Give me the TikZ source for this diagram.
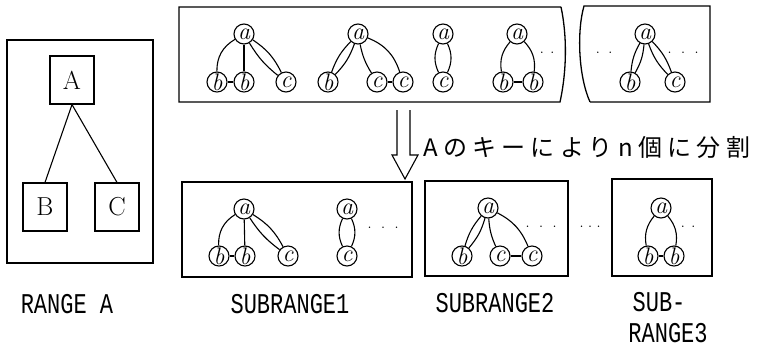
\documentclass[tikz,border=0pt]{standalone}
\usepackage{fontspec}
\newfontfamily\jpfont[LetterSpace=22]{Noto Sans CJK JP}
\newfontfamily\rangefont{Liberation Mono}
\usetikzlibrary{positioning}

\tikzstyle{rangebox} = [rectangle, draw=black, line width=1.3pt]
\tikzstyle{keybox} = [rectangle, minimum width=44pt, minimum height=48pt, draw=black, line width=1.2pt, font=\fontsize{26}{26}\selectfont]
\tikzstyle{vertex} = [circle, draw=black, minimum size=20pt, inner sep=0pt, line width=1.1pt, font=\fontsize{24}{24}\selectfont\itshape]
\tikzstyle{link} = [line width=1.1pt]
\tikzstyle{caption} = [font=\rangefont\fontsize{22}{22}\selectfont, inner sep=0pt]
\tikzstyle{more} = [font=\fontsize{18}{18}\selectfont, inner sep=0pt]

\begin{document}
\begin{tikzpicture}[x=1pt, y=1pt]
\useasboundingbox (0,0) rectangle (762,-349);

% RANGE A
\node (rangeA) [rangebox, minimum width=146pt, minimum height=223pt] at (80,-151.5) {};
\node (A) [keybox] at (72,-80) {A};
\node (B) [keybox] at (45,-207) {B};
\node (C) [keybox] at (117,-207) {C};
\draw [link] (A.south) -- (B.north);
\draw [link] (A.south) -- (C.north);
\node (rangeAcap) [caption] at (67,-304) {\scalebox{1}[1.3]{RANGE A}};

% whole range, broken on the right
\draw [rangebox] (561,-7) -- (179,-7) -- (179,-102) -- (560,-102) .. controls (567,-70) and (567,-35) .. (561,-7);
\draw [rangebox] (590,-102) -- (710,-102) -- (710,-6) -- (584,-6) .. controls (577,-30) and (578,-75) .. (590,-102);

\node (t1a) [vertex] at (244,-34) {a};
\node (t1b) [vertex] at (217,-82) {b};
\node (t1bb) [vertex] at (244,-82) {b};
\node (t1c) [vertex] at (286,-82) {c};
\draw [link] (t1a) to[bend right=30] (t1b);
\draw [link] (t1a) -- (t1bb);
\draw [link] (t1a) to[bend left=15] (t1c);
\draw [link] (t1a) to[bend right=10] (t1c);
\draw [link] (t1b) -- (t1bb);

\node (t2a) [vertex] at (358,-34) {a};
\node (t2b) [vertex] at (328,-82) {b};
\node (t2c) [vertex] at (377,-82) {c};
\draw [link] (t2a) to[bend left=12] (t2b);
\draw [link] (t2a) to[bend right=12] (t2b);
\node (t2cc) [vertex] at (403,-82) {c};
\draw [link] (t2a) to[bend right=10] (t2c);
\draw [link] (t2a) to[bend left=25] (t2cc);
\draw [link] (t2c) -- (t2cc);

\node (t3a) [vertex] at (443,-34) {a};
\node (t3c) [vertex] at (443,-82) {c};
\draw [link] (t3a) to[bend left=25] (t3c);
\draw [link] (t3a) to[bend right=25] (t3c);

\node (t4a) [vertex] at (517,-34) {a};
\node (t4b) [vertex] at (503,-82) {b};
\node (t4bb) [vertex] at (533,-82) {b};
\draw [link] (t4a) to[bend right=25] (t4b);
\draw [link] (t4a) to[bend left=25] (t4bb);
\draw [link] (t4b) -- (t4bb);
\node (t4more) [more] at (547,-53) {.\hspace{6pt}.};

\node (t5less) [more] at (604,-53) {.\hspace{8pt}.};
\node (t5a) [vertex] at (645,-34) {a};
\node (t5b) [vertex] at (630,-82) {b};
\node (t5c) [vertex] at (675,-82) {c};
\draw [link] (t5a) to[bend left=12] (t5b);
\draw [link] (t5a) to[bend right=12] (t5b);
\draw [link] (t5a) to[bend left=12] (t5c);
\draw [link] (t5a) to[bend right=12] (t5c);
\node (t5more) [more] at (683,-53) {.\hspace{9pt}.\hspace{9pt}.};

% split by key A
\coordinate (splittop) at (403.5,-110);
\draw [line width=1.1pt] (397,-110) -- (397,-155) -- (392,-155) -- (405,-179) -- (418,-155) -- (410,-155) -- (410,-110);
\node (splitnote) [anchor=west, font=\jpfont\fontsize{24}{24}\selectfont, inner sep=0pt] at (423,-147) {Aのキーによりn個に分割};

% SUBRANGE1
\node (sub1) [rangebox, minimum width=230pt, minimum height=95pt] at (297,-229.5) {};
\node (s1a) [vertex] at (244,-209) {a};
\node (s1b) [vertex] at (219,-256) {b};
\node (s1bb) [vertex] at (245,-256) {b};
\node (s1c) [vertex] at (288,-256) {c};
\draw [link] (s1a) to[bend right=30] (s1b);
\draw [link] (s1a) -- (s1bb);
\draw [link] (s1a) to[bend left=15] (s1c);
\draw [link] (s1a) to[bend right=10] (s1c);
\draw [link] (s1b) -- (s1bb);
\node (s1d) [vertex] at (347,-209) {a};
\node (s1e) [vertex] at (347,-256) {c};
\draw [link] (s1d) to[bend left=25] (s1e);
\draw [link] (s1d) to[bend right=25] (s1e);
\node (s1more) [more] at (383,-228) {.\hspace{9pt}.\hspace{9pt}.};
\node (sub1cap) [caption] at (290,-304) {\scalebox{1}[1.3]{SUBRANGE1}};

% SUBRANGE2
\node (sub2) [rangebox, minimum width=143pt, minimum height=95pt] at (496.5,-228.5) {};
\node (s2a) [vertex] at (488,-208) {a};
\node (s2b) [vertex] at (462,-256) {b};
\node (s2c) [vertex] at (500,-256) {c};
\node (s2cc) [vertex] at (532,-256) {c};
\draw [link] (s2a) to[bend left=12] (s2b);
\draw [link] (s2a) to[bend right=12] (s2b);
\draw [link] (s2a) to[bend right=10] (s2c);
\draw [link] (s2a) to[bend left=20] (s2cc);
\draw [link] (s2c) -- (s2cc);
\node (s2more) [more] at (541,-227) {.\hspace{9pt}.\hspace{9pt}.};
\node (sub2cap) [caption] at (495,-303) {\scalebox{1}[1.3]{SUBRANGE2}};

\node (gap) [more] at (590,-227) {.\hspace{4pt}.\hspace{4pt}.};

% SUBRANGE3
\node (sub3) [rangebox, minimum width=100pt, minimum height=97pt] at (662,-227.5) {};
\node (s3a) [vertex] at (661,-208) {a};
\node (s3b) [vertex] at (648,-256) {b};
\node (s3bb) [vertex] at (674,-256) {b};
\draw [link] (s3a) to[bend right=25] (s3b);
\draw [link] (s3a) to[bend left=25] (s3bb);
\draw [link] (s3b) -- (s3bb);
\node (s3more) [more] at (688,-227) {.\hspace{6pt}.};
\node (sub3cap) [caption] at (659,-302) {\scalebox{1}[1.3]{SUB-}};
\node (sub3capb) [caption] at (668,-333) {\scalebox{1}[1.3]{RANGE3}};
\end{tikzpicture}
\end{document}
